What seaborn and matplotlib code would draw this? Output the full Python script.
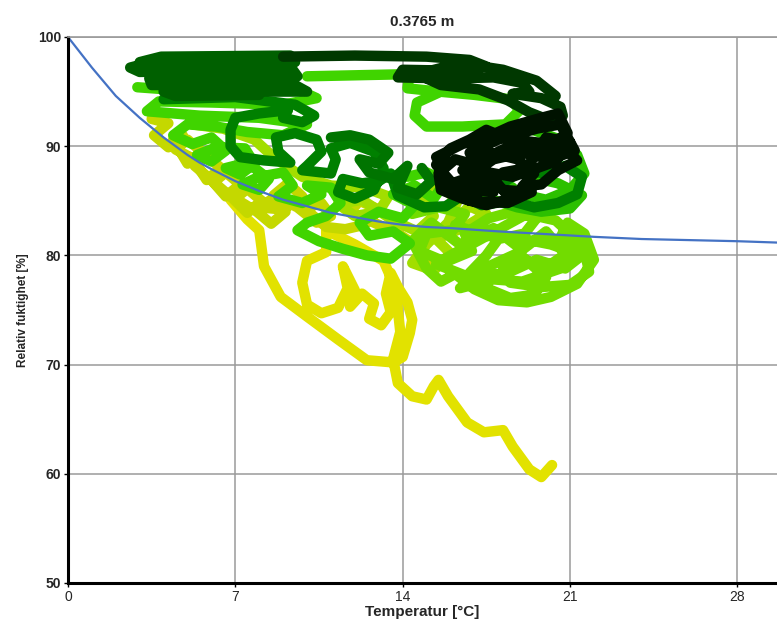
import matplotlib
matplotlib.use("Agg")
import matplotlib.pyplot as plt
import seaborn as sns
import pandas as pd

# ---------------- data ----------------
title = "0.3765 m"
x_label = "Temperatur [°C]"
y_label = "Relativ fuktighet [%]"
x_ticks = [0, 7, 14, 21, 28]
y_ticks = [50, 60, 70, 80, 90, 100]

# blue limit curve
curve_T = [0, 0.5, 1, 1.5, 2, 2.5, 3, 3.5, 4, 4.5, 5, 5.5, 6, 7, 8, 9, 10, 11, 12,
           13, 14, 15, 16, 18, 20, 22, 24, 26, 28, 30]
curve_RH = [100, 98.6, 97.2, 95.9, 94.6, 93.6, 92.6, 91.7, 90.8, 90.0, 89.2, 88.5,
            87.9, 86.8, 85.9, 85.1, 84.5, 83.9, 83.5, 83.1, 82.8, 82.6, 82.5, 82.2,
            81.95, 81.7, 81.5, 81.4, 81.3, 81.15]

# trajectory segments (temperature, relative humidity)
yellow_T = [6.8, 7.5, 8.0, 8.2, 8.9, 10.0, 11.3, 12.5, 13.6, 14.0, 14.3, 14.4, 14.2, 13.8, 13.5,
            13.3, 13.5, 13.1, 12.6, 12.8, 12.3, 11.8, 12.0, 11.5, 11.7, 11.3, 10.6, 10.0, 9.8,
            10.0, 10.8, 10.8, 12.0, 13.2, 13.7, 13.9, 13.6, 13.8, 14.4, 15.0, 15.3, 15.5, 15.9,
            16.7, 17.4, 18.2, 18.6, 19.3, 19.8, 20.25]
yellow_RH = [85.1, 83.3, 82.3, 79.0, 76.2, 74.4, 72.3, 70.4, 70.2, 70.7, 72.9, 74.1, 75.7, 77.1, 78.4,
             76.5, 74.8, 73.6, 74.2, 75.6, 76.5, 75.3, 76.8, 79.0, 77.0, 75.2, 74.7, 75.5, 77.5,
             79.5, 80.3, 82.3, 81.0, 79.5, 77.0, 73.0, 70.5, 68.3, 67.1, 66.8, 68.0, 68.6, 67.1,
             64.7, 63.8, 64.0, 62.5, 60.4, 59.7, 60.8]

ygreen_T = [3.5, 4.2, 3.6, 4.2, 4.8, 4.4, 5.0, 5.6, 5.0, 4.5, 5.2, 5.8, 6.4, 5.8, 5.3, 6.0, 6.6,
            7.2, 6.6, 6.1, 6.9, 7.5, 8.1, 7.5, 7.0, 7.9, 8.5, 9.1, 8.5, 8.0, 9.0, 9.8, 9.2,
            8.6, 9.6, 10.4, 11.0, 10.6, 9.9, 10.8, 11.6, 12.4, 13.0, 12.2, 11.8, 12.8, 13.8,
            14.5, 15.2]
ygreen_RH = [92.5, 92.1, 91.0, 89.9, 91.0, 90.6, 88.4, 89.5, 90.6, 89.7, 88.9, 86.9, 88.0, 89.1,
             88.2, 86.9, 85.4, 86.5, 87.6, 86.7, 85.2, 83.9, 85.0, 86.1, 85.2, 84.0, 82.9, 84.0,
             85.1, 84.4, 84.2, 85.4, 86.6, 85.5, 84.4, 83.0, 83.6, 84.8, 84.3, 82.6, 82.4, 82.8,
             84.2, 85.0, 84.0, 83.0, 82.0, 81.0, 79.5]

lightg_T = [5.2, 6.5, 7.8, 8.6, 9.8, 11.0, 12.4, 13.4, 13.0, 12.0, 11.3, 12.3, 13.6, 14.6, 15.3,
            14.9, 15.6, 16.3, 15.9, 15.0, 14.4, 15.3, 16.0, 15.4, 16.6, 17.5, 16.8, 16.2]
lightg_RH = [92.0, 91.6, 90.6, 89.0, 87.2, 86.4, 86.2, 85.4, 84.0, 83.6, 84.7, 85.1, 83.2, 82.2,
             83.6, 85.2, 86.4, 85.0, 83.0, 81.0, 79.3, 78.6, 80.2, 81.5, 82.6, 83.8, 84.5, 83.2]

lime_T = [14.4, 15.5, 16.6, 16.1, 15.0, 14.7, 15.8, 16.9, 16.6, 17.6, 18.6, 19.6, 19.1, 18.0,
          17.5, 16.8, 17.5, 18.5, 19.5, 20.0, 19.2, 18.2, 18.5, 19.8, 21.0, 21.8, 21.6, 20.6,
          20.9, 21.6, 22.0, 21.3, 20.2, 19.2, 18.0, 17.0, 16.2, 15.6, 15.0, 14.4, 15.2, 16.4,
          17.8, 19.0, 20.0, 20.8, 19.8, 18.8, 17.6, 16.4, 17.8, 19.0, 20.6, 21.4, 20.4, 19.2,
          18.2, 17.2, 16.0, 15.4, 16.8, 18.4, 19.6, 20.8, 21.5, 20.2, 18.8, 17.4, 16.2]
lime_RH = [83.8, 84.4, 83.8, 82.3, 82.0, 80.4, 79.4, 80.4, 82.0, 83.4, 84.0, 83.4, 82.0, 81.5,
           80.0, 78.4, 77.0, 76.1, 76.4, 78.0, 79.5, 79.0, 77.5, 77.1, 77.3, 78.5, 80.5, 81.6,
           83.0, 82.0, 79.6, 77.4, 76.2, 75.7, 75.9, 76.9, 78.3, 77.6, 78.8, 81.3, 83.0, 81.0,
           82.5, 80.5, 82.2, 80.1, 78.6, 80.2, 79.0, 77.0, 77.8, 77.6, 78.8, 81.2, 83.2, 83.8,
           82.6, 81.4, 80.0, 79.2, 78.0, 78.4, 79.6, 78.8, 80.0, 81.0, 81.6, 81.8, 82.8]

brightA_T = [2.9, 6.0, 9.6, 10.4, 9.0, 6.0, 3.8, 3.3, 5.5, 8.0, 10.0, 9.0, 7.5, 6.2, 5.0, 4.4,
             5.2, 6.0, 6.6, 6.0, 5.4, 6.2, 7.4, 7.8, 7.2, 6.6, 7.5, 8.4, 8.0, 7.3, 8.0, 9.0,
             9.4, 8.8, 9.8, 10.6, 10.0, 11.0, 11.4, 10.8, 10.0, 9.6, 10.5, 11.5, 12.5, 13.5,
             14.3, 13.6, 12.6, 12.2, 13.0, 14.0, 14.5, 13.6, 14.5, 15.3, 15.8, 15.0, 14.2]
brightA_RH = [95.4, 94.9, 95.2, 94.4, 93.8, 94.0, 94.1, 93.2, 92.8, 92.6, 92.0, 91.0, 91.3, 91.8,
              92.0, 91.0, 90.2, 90.8, 89.6, 88.6, 89.2, 89.9, 89.8, 88.4, 87.4, 88.0, 88.5,
              87.0, 86.0, 86.5, 87.2, 87.6, 86.4, 85.4, 84.8, 85.6, 86.4, 86.2, 84.8, 83.6,
              83.0, 82.3, 81.3, 80.6, 80.0, 79.7, 81.1, 82.2, 81.8, 83.0, 84.0, 83.4, 84.6,
              85.6, 86.4, 85.2, 86.8, 87.6, 87.2]

brightB_T = [10.0, 14.3, 14.2, 15.5, 17.0, 18.5, 18.9, 18.3, 16.5, 15.0, 14.5, 14.6, 15.5]
brightB_RH = [96.4, 96.6, 95.3, 95.0, 94.7, 94.3, 93.3, 92.0, 91.8, 91.8, 92.8, 94.0, 94.9]

brightC_T = [19.3, 20.6, 21.3, 21.6, 21.0, 20.0, 19.0, 19.5, 20.5, 21.5, 21.0, 19.8, 18.8,
             17.6, 16.8, 17.8, 18.6]
brightC_RH = [91.6, 90.6, 89.2, 87.5, 86.0, 85.1, 85.6, 87.1, 86.6, 85.5, 84.3, 84.0, 84.4,
              85.2, 86.4, 87.2, 86.2]

medg_T = [4.0, 7.0, 9.5, 10.3, 9.8, 9.0, 9.2, 8.0, 7.0, 6.8, 6.8, 7.2, 8.2, 9.3, 8.8, 8.7, 9.5,
          10.4, 10.6, 10.0, 9.8, 11.0, 11.2, 11.0, 11.8, 12.8, 13.2, 12.8, 12.0, 11.3, 11.5,
          12.3, 13.0, 13.5, 13.8, 14.9, 15.8, 16.5, 17.3, 18.5, 19.5, 20.5, 21.3, 21.5, 20.8,
          20.0, 19.0, 18.3]
medg_RH = [94.3, 94.5, 93.8, 92.8, 92.2, 92.6, 93.3, 93.0, 92.6, 91.5, 90.0, 89.0, 88.7, 88.5,
           89.5, 90.8, 91.2, 90.6, 89.5, 88.2, 87.8, 87.5, 88.8, 89.8, 90.3, 89.5, 88.0, 86.0,
           85.2, 85.8, 87.0, 86.6, 86.8, 87.5, 85.5, 84.4, 84.5, 85.5, 84.6, 85.0, 84.4, 84.8,
           85.6, 87.2, 88.2, 87.5, 87.8, 86.8]

# extra dark-green wiggles between 11 and 15 degrees
medg2_T = [11.0, 11.8, 12.6, 13.4, 13.0, 12.2, 12.6, 13.6, 14.2, 13.8, 14.6, 15.2, 14.8]
medg2_RH = [90.8, 91.0, 90.6, 89.4, 88.4, 88.8, 87.6, 87.0, 88.2, 86.2, 85.6, 86.8, 88.0]

darkg_T = [3.0, 3.9, 9.3, 9.5, 3.3, 2.6, 3.0, 9.4, 9.6, 3.4, 3.5, 9.5, 10.0, 4.0, 4.5, 8.0]
darkg_RH = [97.7, 98.2, 98.3, 97.7, 97.6, 97.2, 96.8, 97.0, 96.4, 96.2, 95.6, 95.6, 95.0, 95.0,
            94.6, 94.7]

vdark_T = [9.0, 12.0, 15.0, 16.8, 17.5, 16.5, 14.0, 13.8, 16.0, 17.8, 19.0, 19.3, 18.6, 19.8,
           20.6, 20.7, 20.0, 19.3, 18.4, 17.2, 15.6, 14.6, 16.4, 18.2, 19.6, 20.4]
vdark_RH = [98.2, 98.3, 98.2, 97.9, 97.3, 96.9, 97.0, 96.3, 96.2, 96.3, 95.8, 95.0, 94.8, 94.4,
            93.6, 92.8, 92.5, 93.1, 94.2, 95.2, 95.6, 96.6, 97.6, 97.0, 96.0, 94.6]

black_T = [15.4, 16.5, 17.5, 18.5, 19.8, 20.5, 20.9, 20.2, 19.0, 18.0, 17.2, 16.2, 15.5, 15.6,
           16.5, 17.5, 18.5, 18.0, 17.0, 16.5, 17.5, 18.8, 19.5, 19.0, 19.8, 20.5, 21.3, 20.8,
           19.6, 18.7, 17.5, 16.8, 16.0, 15.4, 16.0, 17.0, 18.2, 19.2, 20.0, 21.0, 20.4, 18.6,
           17.6, 16.4, 17.8, 16.8, 18.0, 19.6, 20.6, 21.2, 20.2, 19.0, 17.8, 16.6, 15.8, 16.8,
           18.4, 19.4, 18.2]
black_RH = [89.0, 90.2, 90.8, 91.8, 92.6, 93.0, 91.2, 90.2, 90.5, 89.5, 88.2, 88.8, 87.5, 86.0,
            85.2, 84.6, 85.2, 86.5, 86.8, 87.8, 89.5, 88.8, 87.5, 86.3, 86.5, 87.8, 88.7, 89.8,
            89.3, 90.4, 91.5, 90.6, 89.8, 88.3, 86.8, 85.5, 87.6, 88.0, 90.8, 90.4, 88.6, 87.2,
            87.6, 86.2, 85.8, 89.4, 90.6, 91.6, 92.0, 89.6, 88.8, 89.4, 88.8, 87.0, 86.4, 85.0,
            84.8, 85.8, 86.0]

segments = [
    ("yellow", yellow_T, yellow_RH, "#e2e200"),
    ("ygreen", ygreen_T, ygreen_RH, "#c4d800"),
    ("lightg", lightg_T, lightg_RH, "#a2de00"),
    ("lime", lime_T, lime_RH, "#72dc00"),
    ("brightA", brightA_T, brightA_RH, "#40d400"),
    ("brightB", brightB_T, brightB_RH, "#40d400"),
    ("brightC", brightC_T, brightC_RH, "#2cc000"),
    ("medg", medg_T, medg_RH, "#008000"),
    ("medg2", medg2_T, medg2_RH, "#007400"),
    ("darkg", darkg_T, darkg_RH, "#006000"),
    ("vdark", vdark_T, vdark_RH, "#003800"),
    ("black", black_T, black_RH, "#001200"),
]

rows = []
for name, ts, rhs, col in segments:
    for i, (t, r) in enumerate(zip(ts, rhs)):
        rows.append({"seg": name, "i": i, "T": t, "RH": r})
df = pd.DataFrame(rows)
palette = {name: col for name, _, _, col in segments}
order = [s[0] for s in segments]

# ---------------- figure ----------------
sns.set_theme(style="white")
plt.rcParams["font.family"] = ["Liberation Sans Narrow", "Liberation Sans", "DejaVu Sans"]

W, H = 777, 627
fig = plt.figure(figsize=(W / 100, H / 100), dpi=100)
ax = fig.add_axes([68 / W, 1 - 583 / H, 1 - 68 / W, (583 - 37) / H])

sns.lineplot(data=df, x="T", y="RH", hue="seg", hue_order=order, palette=palette,
             units="seg", estimator=None, sort=False, linewidth=7.5,
             solid_capstyle="round", solid_joinstyle="round", legend=False, ax=ax)

sns.lineplot(x=curve_T, y=curve_RH, color="#4472c4", linewidth=1.6, sort=False,
             estimator=None, ax=ax)

ax.set_xlim(0, 29.66)
ax.set_ylim(50, 100)
ax.set_xticks(x_ticks)
ax.set_yticks(y_ticks)
ax.set_xticklabels([str(v) for v in x_ticks], fontsize=10)
ax.set_yticklabels([str(v) for v in y_ticks], fontsize=10, fontweight="bold")
ax.grid(True, color="#9a9a9a", linewidth=1.1)
ax.set_axisbelow(True)
for s in ["left", "bottom"]:
    ax.spines[s].set_color("black")
    ax.spines[s].set_linewidth(2.2)
ax.spines["top"].set_color("#9a9a9a")
ax.spines["top"].set_linewidth(1.2)
ax.spines["right"].set_visible(False)
ax.tick_params(axis="both", length=3, width=1, color="black", pad=2,
               left=True, bottom=True)

ax.set_xlabel(x_label, fontsize=11, fontweight="bold", labelpad=1)
ax.set_ylabel(y_label, fontsize=8.5, fontweight="bold", labelpad=6)
ax.set_title(title, fontsize=11, fontweight="bold", family=["Liberation Sans", "DejaVu Sans"], pad=8)

fig.savefig("out.png", dpi=100)
